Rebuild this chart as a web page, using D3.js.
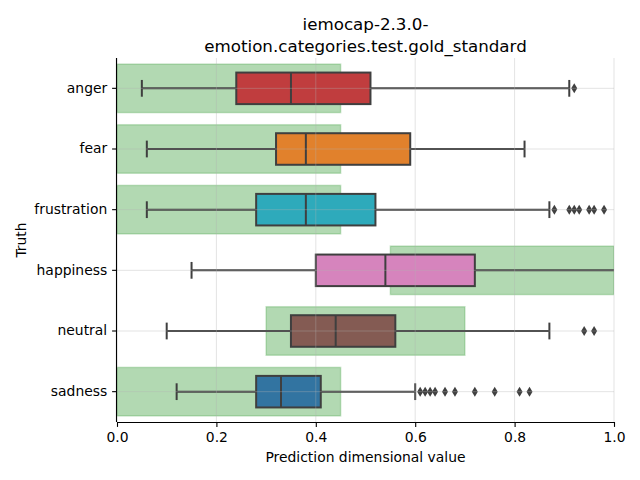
<!DOCTYPE html>
<html><head><meta charset="utf-8">
<script src="https://cdn.jsdelivr.net/npm/d3@7"></script>
<style>body{margin:0;background:#fff}text{font-family:"DejaVu Sans",sans-serif}</style>
</head><body><svg id="c" width="640" height="480"></svg>
<script>
const categories = ["anger","fear","frustration","happiness","neutral","sadness"];
const colors = ["#c03d3e","#e1812c","#2eaabb","#d684bd","#845b53","#3274a1"];
const whiskerLow = [0.05,0.06,0.06,0.15,0.10,0.12];
const q1 = [0.24,0.32,0.28,0.40,0.35,0.28];
const median = [0.35,0.38,0.38,0.54,0.44,0.33];
const q3 = [0.51,0.59,0.52,0.72,0.56,0.41];
const whiskerHigh = [0.91,0.82,0.87,1.03,0.87,0.60];
const outliers = [
  [0.92],
  [],
  [0.88,0.91,0.92,0.93,0.95,0.96,0.98],
  [],
  [0.94,0.96],
  [0.61,0.62,0.63,0.64,0.66,0.68,0.72,0.76,0.81,0.83]
];
const goldLow = [0,0,0,0.55,0.30,0];
const goldHigh = [0.45,0.45,0.45,1.0,0.70,0.45];
const xTicks = [0,0.2,0.4,0.6,0.8,1.0];
const title = ["iemocap-2.3.0-","emotion.categories.test.gold_standard"];

const svg = d3.select("#c");
const L=117,R=614,T=58,B=422;
const x = d3.scaleLinear().domain([0,1]).range([L,R]);
const y = d3.scaleBand().domain(categories).range([T,B]);
const bw = y.bandwidth();

svg.append("defs").append("clipPath").attr("id","clip")
  .append("rect").attr("x",L).attr("y",T).attr("width",R-L).attr("height",B-T);
const g = svg.append("g").attr("clip-path","url(#clip)");

categories.forEach((c,i)=>{
  const h = bw*0.8;
  g.append("rect").attr("x",x(goldLow[i])).attr("y",y(c)+bw/2-h/2)
   .attr("width",x(goldHigh[i])-x(goldLow[i])).attr("height",h)
   .attr("fill","rgb(0,128,0)").attr("fill-opacity",0.3)
   .attr("stroke","rgb(0,128,0)").attr("stroke-opacity",0.2).attr("stroke-width",1.5);
});

const lc = "#3f3f3f", lw = 2;
categories.forEach((c,i)=>{
  const cy = y(c)+bw/2, h = bw*0.52;
  g.append("line").attr("x1",x(whiskerLow[i])).attr("x2",x(q1[i])).attr("y1",cy).attr("y2",cy).attr("stroke",lc).attr("stroke-width",lw);
  g.append("line").attr("x1",x(q3[i])).attr("x2",x(whiskerHigh[i])).attr("y1",cy).attr("y2",cy).attr("stroke",lc).attr("stroke-width",lw);
  [whiskerLow[i],whiskerHigh[i]].forEach(v=>{
    g.append("line").attr("x1",x(v)).attr("x2",x(v)).attr("y1",cy-h/4-0.5).attr("y2",cy+h/4+0.5).attr("stroke",lc).attr("stroke-width",lw);
  });
  g.append("rect").attr("x",x(q1[i])).attr("y",cy-h/2).attr("width",x(q3[i])-x(q1[i])).attr("height",h)
    .attr("fill",colors[i]).attr("stroke",lc).attr("stroke-width",lw);
  g.append("line").attr("x1",x(median[i])).attr("x2",x(median[i])).attr("y1",cy-h/2).attr("y2",cy+h/2).attr("stroke",lc).attr("stroke-width",lw);
  outliers[i].forEach(v=>{
    g.append("path").attr("d",`M${x(v)},${cy-5}L${x(v)+3},${cy}L${x(v)},${cy+5}L${x(v)-3},${cy}Z`).attr("fill",lc);
  });
});

const grid = svg.append("g");
xTicks.forEach(t=>grid.append("line").attr("x1",x(t)).attr("x2",x(t)).attr("y1",T).attr("y2",B).attr("stroke","#b0b0b0").attr("stroke-opacity",0.45).attr("stroke-width",0.8));
categories.forEach(c=>grid.append("line").attr("x1",L).attr("x2",R).attr("y1",y(c)+bw/2).attr("y2",y(c)+bw/2).attr("stroke","#b0b0b0").attr("stroke-opacity",0.45).attr("stroke-width",0.8));

const xa = svg.append("g").attr("transform",`translate(0,${B})`)
  .call(d3.axisBottom(x).tickValues(xTicks).tickFormat(d3.format(".1f")).tickSize(4.9).tickPadding(4.9));
const ya = svg.append("g").attr("transform",`translate(${L},0)`)
  .call(d3.axisLeft(y).tickSize(4.9).tickPadding(4.9));
[xa,ya].forEach(a=>{
  a.selectAll("path").attr("stroke","#000").attr("stroke-width",1.1);
  a.selectAll("line").attr("stroke","#000").attr("stroke-width",1.1);
  a.selectAll("text").attr("font-size",13.9).attr("fill","#000").attr("font-family","DejaVu Sans");
});
xa.select(".domain").attr("d",`M${L},0.5H${R}`);
ya.select(".domain").attr("d",`M-0.5,${T}V${B}`);

svg.append("text").attr("x",(L+R)/2).attr("y",462).attr("text-anchor","middle").attr("font-size",13.9).text("Prediction dimensional value");
svg.append("text").attr("transform",`translate(26,${(T+B)/2}) rotate(-90)`).attr("text-anchor","middle").attr("font-size",13.9).text("Truth");
title.forEach((t,i)=>svg.append("text").attr("x",(L+R)/2).attr("y",30+i*21.5).attr("text-anchor","middle").attr("font-size",16.7).text(t));
</script></body></html>
